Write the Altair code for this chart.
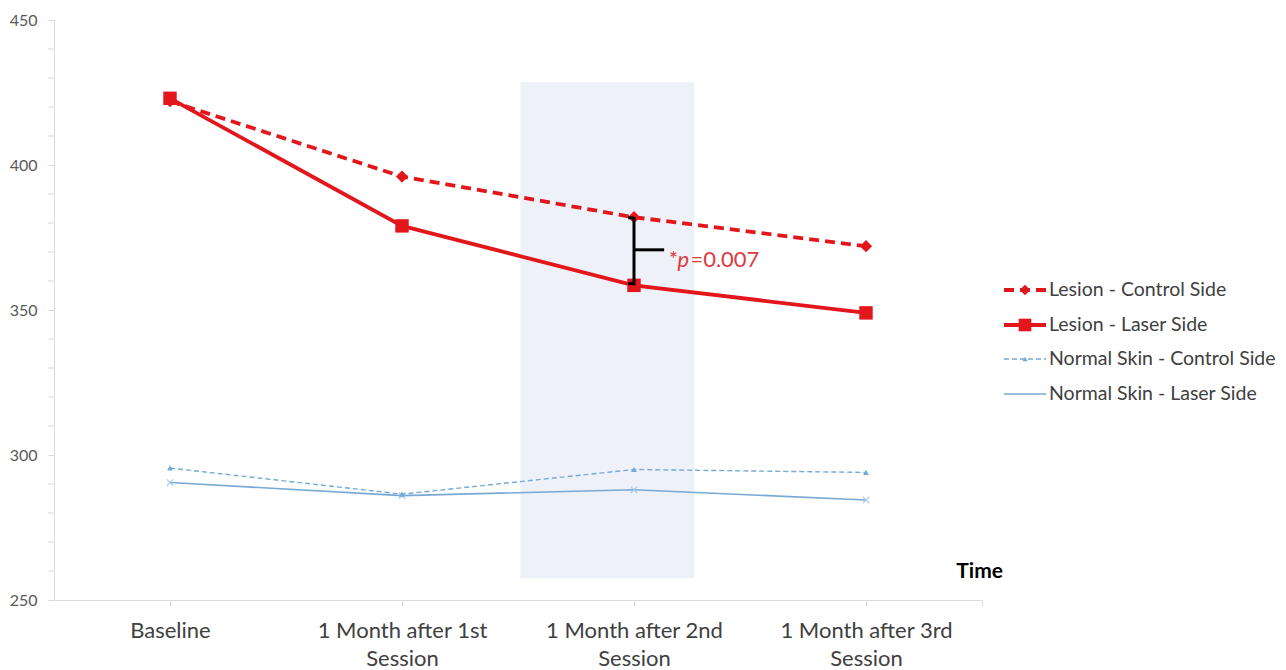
import altair as alt
import pandas as pd

times = ["Baseline", "1 Month after 1st Session", "1 Month after 2nd Session", "1 Month after 3rd Session"]
tick_lines = [["Baseline"], ["1 Month after 1st", "Session"], ["1 Month after 2nd", "Session"], ["1 Month after 3rd", "Session"]]
series_names = ["Lesion - Control Side", "Lesion - Laser Side", "Normal Skin - Control Side", "Normal Skin - Laser Side"]
lesion_control = [422.0, 396.0, 382.0, 372.0]
lesion_laser = [423.0, 379.0, 358.5, 349.0]
normal_control = [295.5, 286.5, 295.0, 294.0]
normal_laser = [290.5, 286.0, 288.0, 284.5]
y_major = [250, 300, 350, 400, 450]
y_minor = [260, 270, 280, 290, 310, 320, 330, 340, 360, 370, 380, 390, 410, 420, 430, 440]
p_label = "0.007"

RED = "#e3161c"
BLUE = "#76a9d6"
FONT = "Lato"
AX = "#d9d9d9"
XSHAPE = "M-1,-1L1,1M-1,1L1,-1"

rows = []
for name, vals in zip(series_names, [lesion_control, lesion_laser, normal_control, normal_laser]):
    for i, v in enumerate(vals):
        rows.append({"series": name, "idx": i, "time": times[i], "value": v})
df = pd.DataFrame(rows)

xs = alt.Scale(domain=[-0.5, 3.5], nice=False, zero=False)
ys = alt.Scale(domain=[250, 450], nice=False, zero=False)

label_map = "{" + ",".join(f"'{i}': {lines!r}" for i, lines in enumerate(tick_lines)) + "}"
x_axis = alt.Axis(values=[0, 1, 2, 3, 3.5], title=None,
                  labelExpr=f"datum.value == 3.5 ? '' : {label_map}[''+datum.value]",
                  labelFontSize=22, labelColor="#404040", labelFont=FONT,
                  labelLineHeight=28, labelPadding=14, tickSize=6, labelOverlap=False,
                  domainColor=AX, tickColor=AX, grid=False, labelFlush=False)
y_axis = alt.Axis(values=y_major, title=None, format="d",
                  labelFontSize=16, labelColor="#595959", labelFont=FONT, labelOverlap=False,
                  tickSize=6, labelPadding=11, domainColor=AX,
                  tickColor=AX, grid=False, labelFlush=False)

base = alt.Chart(df)

shade = alt.Chart(pd.DataFrame({"x": [1.51], "x2": [2.26], "y": [257.5], "y2": [428.5]})).mark_rect(
    color="#eef2f8").encode(
    x=alt.X("x:Q", scale=xs, axis=x_axis), x2="x2:Q",
    y=alt.Y("y:Q", scale=ys, axis=y_axis), y2="y2:Q")

minor = alt.Chart(pd.DataFrame({"v": y_minor})).mark_rule(color=AX, strokeWidth=1).encode(
    y=alt.Y("v:Q", scale=ys), x=alt.value(-6), x2=alt.value(0))

def line_layer(name, color, width, dash, shape, size, filled=True, pcolor=None):
    sub = base.transform_filter(alt.datum.series == name)
    kw = {}
    if dash:
        kw["strokeDash"] = dash
    ln = sub.mark_line(color=color, strokeWidth=width, **kw).encode(
        x=alt.X("idx:Q", scale=xs), y=alt.Y("value:Q", scale=ys))
    if filled:
        pt = sub.mark_point(shape=shape, size=size, filled=True, color=pcolor or color, opacity=1)
    else:
        pt = sub.mark_point(shape=shape, size=size, filled=False, color=pcolor or color, strokeWidth=1.2, opacity=1)
    pt = pt.encode(x=alt.X("idx:Q", scale=xs), y=alt.Y("value:Q", scale=ys))
    return ln + pt

nl = line_layer(series_names[3], BLUE, 1.6, None, XSHAPE, 40, filled=False, pcolor="#a9c8e6")
nc = line_layer(series_names[2], BLUE, 1.4, [5, 3], "triangle-up", 35)
ll = line_layer(series_names[1], RED, 3.8, None, "square", 180)
lc = line_layer(series_names[0], RED, 3.8, [10, 6], "diamond", 150)

# significance bracket at the 2nd session
bx = 2
top = lesion_control[bx]
bot = lesion_laser[bx]
mid = (top + bot) / 2 + 0.5
br = pd.DataFrame({"x": [bx], "y": [top], "y2": [bot]})
vert = alt.Chart(br).mark_rule(color="black", strokeWidth=3).encode(
    x=alt.X("x:Q", scale=xs), y=alt.Y("y:Q", scale=ys), y2="y2:Q")
hor = alt.Chart(pd.DataFrame({"x": [bx], "x2": [bx + 0.13], "y": [mid]})).mark_rule(
    color="black", strokeWidth=3).encode(x=alt.X("x:Q", scale=xs), x2="x2:Q", y=alt.Y("y:Q", scale=ys))
hooks = alt.Chart(pd.DataFrame({"x": [bx - 0.025, bx - 0.025], "x2": [bx, bx], "y": [top - 0.2, bot + 0.6]})).mark_rule(
    color="black", strokeWidth=3).encode(x=alt.X("x:Q", scale=xs), x2="x2:Q", y=alt.Y("y:Q", scale=ys))

ptxt_y = mid - 3.5
star = alt.Chart(pd.DataFrame({"x": [bx + 0.15], "y": [ptxt_y], "t": ["*"]})).mark_text(
    color="#e0383f", font=FONT, fontSize=22, align="left", baseline="middle").encode(
    x=alt.X("x:Q", scale=xs), y=alt.Y("y:Q", scale=ys), text="t:N")
pit = alt.Chart(pd.DataFrame({"x": [bx + 0.187], "y": [ptxt_y], "t": ["p"]})).mark_text(
    color="#e0383f", font=FONT, fontSize=22, fontStyle="italic", align="left", baseline="middle").encode(
    x=alt.X("x:Q", scale=xs), y=alt.Y("y:Q", scale=ys), text="t:N")
pval = alt.Chart(pd.DataFrame({"x": [bx + 0.243], "y": [ptxt_y], "t": ["=" + p_label]})).mark_text(
    color="#e0383f", font=FONT, fontSize=22, align="left", baseline="middle").encode(
    x=alt.X("x:Q", scale=xs), y=alt.Y("y:Q", scale=ys), text="t:N")

time_lbl = alt.Chart(pd.DataFrame({"t": ["Time"]})).mark_text(
    font=FONT, fontSize=21, fontWeight="bold", color="black", align="right", baseline="middle").encode(
    x=alt.value(949), y=alt.value(552), text="t:N")

# manual legend
leg_y = [270, 305, 339, 374]
leg_layers = []
specs = [
    (RED, 3.8, [10, 6], "diamond", 110, True),
    (RED, 3.8, None, "square", 160, True),
    (BLUE, 1.4, [5, 3], "triangle-up", 28, True),
    (BLUE, 1.6, None, None, 0, True),
]
for name, yy, (col, w, dash, shp, sz, f) in zip(series_names, leg_y, specs):
    kw = {"strokeDash": dash} if dash else {}
    leg_layers.append(alt.Chart(pd.DataFrame({"n": [name]})).mark_rule(color=col, strokeWidth=w, **kw).encode(
        x=alt.value(950), x2=alt.value(992), y=alt.value(yy)))
    if shp:
        leg_layers.append(alt.Chart(pd.DataFrame({"n": [name]})).mark_point(
            shape=shp, size=sz, filled=True, color=col, opacity=1).encode(x=alt.value(971), y=alt.value(yy)))
    leg_layers.append(alt.Chart(pd.DataFrame({"n": [name]})).mark_text(
        font=FONT, fontSize=19.5, color="#404040", align="left", baseline="middle").encode(
        x=alt.value(995), y=alt.value(yy), text="n:N"))

chart = alt.layer(shade, minor, nl, nc, ll, lc, vert, hor, hooks, star, pit, pval, time_lbl, *leg_layers).properties(
    width=928, height=580,
    autosize=alt.AutoSizeParams(type="none"),
    padding={"left": 46, "top": 12, "right": 296, "bottom": 72},
).configure_view(stroke=None).configure_axis(grid=False, labelOverlap=False)

chart.save("out.html", embed_options={"renderer": "svg", "actions": False})
